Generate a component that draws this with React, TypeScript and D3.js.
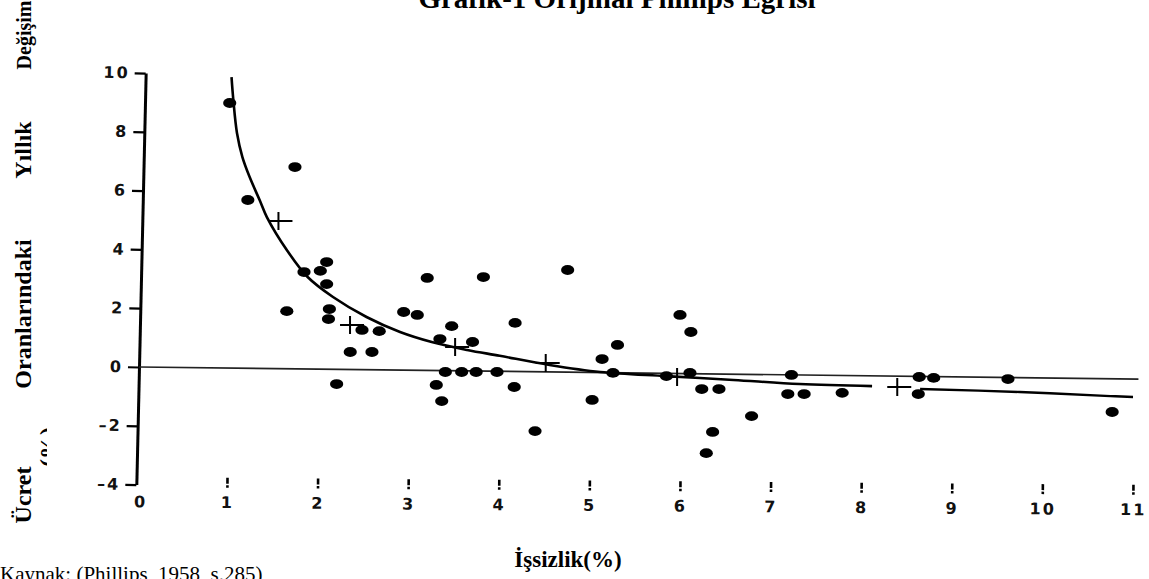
import React, { useEffect, useRef } from 'react'
import * as d3 from 'd3'

const W = 1149
const H = 579

// axis ticks
const yTicks = [-4, -2, 0, 2, 4, 6, 8, 10]
const xTicks = [0, 1, 2, 3, 4, 5, 6, 7, 8, 9, 10, 11]

const dotX = [1.03, 1.23, 1.75, 1.66, 1.85, 2.03, 2.10, 2.10, 2.13, 2.12, 2.49, 2.68, 2.36, 2.60, 2.21,
  2.95, 3.10, 3.21, 3.83, 4.76, 3.48, 3.35, 3.71, 4.18, 3.41, 3.59, 3.75, 3.98, 3.31, 3.37, 4.17, 4.40,
  5.03, 5.14, 5.31, 5.26, 6.00, 6.12, 5.85, 6.11, 6.24, 6.43, 6.36, 6.29, 6.79, 7.23, 7.19, 7.37, 7.79,
  8.64, 8.80, 8.63, 9.62, 10.77]
const dotY = [8.98, 5.68, 6.80, 1.90, 3.23, 3.27, 3.57, 2.82, 1.97, 1.63, 1.26, 1.22, 0.51, 0.51, -0.58,
  1.87, 1.77, 3.03, 3.06, 3.30, 1.39, 0.95, 0.85, 1.50, -0.17, -0.17, -0.17, -0.17, -0.61, -1.16, -0.68, -2.18,
  -1.12, 0.27, 0.75, -0.20, 1.77, 1.19, -0.31, -0.20, -0.75, -0.75, -2.21, -2.93, -1.67, -0.27, -0.92, -0.92, -0.88,
  -0.34, -0.37, -0.92, -0.41, -1.53]

// group averages (crosses)
const crossX = [1.59, 2.38, 3.54, 4.54, 5.99, 8.42]
const crossY = [4.97, 1.43, 0.68, 0.14, -0.34, -0.68]

// fitted curve, drawn in two pieces (gap in the scan)
const curveAX = [1.05, 1.07, 1.11, 1.17, 1.25, 1.36, 1.44, 1.66, 1.89, 2.17, 2.54, 2.91, 3.27, 3.65, 4.01, 4.56, 5.12, 5.85, 6.59, 7.32, 8.12]
const curveAY = [9.86, 9.08, 7.96, 7.14, 6.46, 5.68, 5.10, 3.98, 3.06, 2.38, 1.70, 1.19, 0.84, 0.58, 0.38, 0.07, -0.17, -0.31, -0.44, -0.58, -0.65]
const curveBX = [8.65, 9.75, 10.75, 11.0]
const curveBY = [-0.75, -0.85, -0.99, -1.02]

// zero line (slightly tilted in the scan)
const zeroX = [0.03, 11.06]
const zeroY = [0, -0.41]

const yLabelWords = ['Ücret', 'Oranlarındaki', 'Yıllık', 'Değişim']

const App = () => {
  const svgRef = useRef<SVGSVGElement>(null)

  useEffect(() => {
    const svg = d3.select(svgRef.current)
    svg.selectAll('*').remove()

    const x = d3.scaleLinear().domain([0, 11]).range([136.4, 1133])
    const y = d3.scaleLinear().domain([-4, 10]).range([484.6, 73])

    const serif = "'Liberation Serif', 'Times New Roman', serif"
    const sans = "'DejaVu Sans', sans-serif"

    // title (cut at the top in the scan)
    svg.append('text')
      .attr('x', 617).attr('y', 8)
      .attr('text-anchor', 'middle')
      .attr('font-family', serif).attr('font-weight', 'bold').attr('font-size', 29)
      .text('Grafik-1 Orijinal Phillips Eğrisi')

    // y axis
    const yAxis = d3.axisLeft(y)
      .tickValues(yTicks)
      .tickSize(11)
      .tickSizeOuter(0)
      .tickPadding(5)
      .tickFormat((d: any) => (d < 0 ? '–' + Math.abs(d) : String(d)))
    const gy = svg.append('g')
      .attr('transform', `translate(139,0) rotate(1.3, 0, ${y(0)})`)
      .call(yAxis)
    gy.select('.domain').attr('stroke-width', 3)
    gy.selectAll('.tick line').attr('stroke-width', 2.2)
    gy.selectAll('.tick text')
      .attr('font-family', sans).attr('font-weight', 'bold').attr('font-size', 16).attr('letter-spacing', 2)
      .attr('fill', '#111')

    // x axis
    const xAxis = d3.axisBottom(x)
      .tickValues(xTicks)
      .tickSize(10)
      .tickPadding(9)
      .tickFormat(d3.format('d'))
    const gx = svg.append('g')
      .attr('transform', `translate(0,477) rotate(0.45, ${x(0)}, 0)`)
      .call(xAxis)
    gx.select('.domain').remove()
    gx.selectAll('.tick line')
      .attr('stroke-width', 2.6)
      .attr('stroke-dasharray', '6,1.5,3')
    gx.selectAll('.tick').filter((d: any) => d === 0).select('line').remove()
    gx.selectAll('.tick').filter((d: any) => d === 0).select('text').attr('dx', 4)
    gx.selectAll('.tick text')
      .attr('font-family', sans).attr('font-weight', 'bold').attr('font-size', 16).attr('letter-spacing', 2)
      .attr('fill', '#111')

    // zero line
    const line = d3.line<number>()
    svg.append('path')
      .attr('d', line(zeroX.map((v, i) => [x(v), y(zeroY[i])]) as any))
      .attr('fill', 'none').attr('stroke', '#222').attr('stroke-width', 1.7)

    // curve
    const curve = d3.line<[number, number]>()
      .x(d => x(d[0])).y(d => y(d[1]))
      .curve(d3.curveCatmullRom.alpha(0.5))
    svg.append('path')
      .attr('d', curve(curveAX.map((v, i) => [v, curveAY[i]] as [number, number])))
      .attr('fill', 'none').attr('stroke', '#000').attr('stroke-width', 2.6)
    svg.append('path')
      .attr('d', curve(curveBX.map((v, i) => [v, curveBY[i]] as [number, number])))
      .attr('fill', 'none').attr('stroke', '#000').attr('stroke-width', 2.4)

    // dots
    svg.append('g').selectAll('ellipse')
      .data(dotX.map((v, i) => [v, dotY[i]]))
      .join('ellipse')
      .attr('cx', d => x(d[0]))
      .attr('cy', d => y(d[1]))
      .attr('rx', 6.6).attr('ry', 4.9)
      .attr('fill', '#000')

    // crosses
    svg.append('g').selectAll('path')
      .data(crossX.map((v, i) => [v, crossY[i]]))
      .join('path')
      .attr('d', d => {
        const cx = x(d[0]), cy = y(d[1])
        return `M${cx - 12},${cy}H${cx + 12}M${cx - 2},${cy - 9}V${cy + 9}`
      })
      .attr('fill', 'none').attr('stroke', '#000').attr('stroke-width', 2)

    // y label: justified words, rotated
    const yWordPos = [495, 314, 150, 35]
    const yWordSize = [24, 24, 24, 20]
    yLabelWords.forEach((w, i) => {
      svg.append('text')
        .attr('transform', `translate(31,${yWordPos[i]}) rotate(-90)`)
        .attr('text-anchor', 'middle')
        .attr('font-family', serif).attr('font-weight', 'bold').attr('font-size', yWordSize[i])
        .text(w)
    })
    // second line, mostly hidden behind the box edge
    svg.append('clipPath').attr('id', 'ylab2')
      .append('rect').attr('x', 0).attr('y', 0).attr('width', 47).attr('height', H)
    svg.append('g')
      .attr('clip-path', 'url(#ylab2)')
      .append('text')
      .attr('transform', `translate(56,447) rotate(-90)`)
      .attr('text-anchor', 'middle')
      .attr('font-family', serif).attr('font-weight', 'bold').attr('font-size', 24)
      .text('(%)')

    // x label
    svg.append('text')
      .attr('x', 568).attr('y', 567)
      .attr('text-anchor', 'middle')
      .attr('font-family', serif).attr('font-weight', 'bold').attr('font-size', 23)
      .text('İşsizlik(%)')

    // source
    svg.append('text')
      .attr('x', 0).attr('y', 581)
      .attr('font-family', serif).attr('font-size', 21)
      .text('Kaynak: (Phillips, 1958, s.285)')
  }, [])

  return (
    <svg
      ref={svgRef}
      width={W}
      height={H}
      style={{ position: 'absolute', left: 0, top: 0, background: '#fff', display: 'block' }}
    />
  )
}

export default App
